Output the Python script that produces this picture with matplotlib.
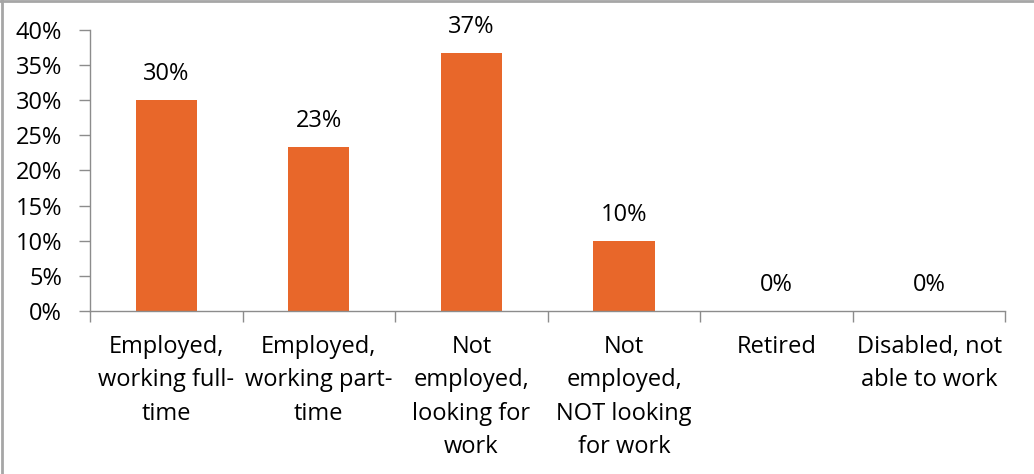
import numpy as np
import matplotlib
matplotlib.use("Agg")
import matplotlib.pyplot as plt
from matplotlib.ticker import FixedLocator, PercentFormatter

categories = ["Employed,\nworking full-\ntime",
              "Employed,\nworking part-\ntime",
              "Not\nemployed,\nlooking for\nwork",
              "Not\nemployed,\nNOT looking\nfor work",
              "Retired",
              "Disabled, not\nable to work"]
shares = [30.0, 23.3, 36.7, 10.0, 0.0, 0.0]
yticks = [0, 5, 10, 15, 20, 25, 30, 35, 40]

plt.rcParams["font.family"] = ["Open Sans", "DejaVu Sans"]
bar_color = "#E8672A"
axis_color = "#8C8C8C"
fs = 17

fig = plt.figure(figsize=(10.34, 4.74), dpi=100)
ax = fig.add_axes([0.087, 0.3439, 0.8854, 0.5928])

x = np.arange(len(categories))
ax.bar(x, shares, width=0.4, color=bar_color)

for xi, v in zip(x, shares):
    ax.annotate(f"{v:.0f}%", (xi, v), xytext=(0, 10), textcoords="offset points",
                ha="center", va="bottom", fontsize=fs, color="#000000")

ax.set_xlim(-0.5, len(categories) - 0.5)
ax.set_ylim(0, 40)
ax.set_yticks(yticks)
ax.yaxis.set_major_formatter(PercentFormatter(decimals=0))

ax.set_xticks(x)
ax.set_xticklabels(categories, fontsize=fs, linespacing=1.53)
ax.xaxis.set_minor_locator(FixedLocator(np.arange(-0.5, len(categories), 1.0)))
ax.tick_params(axis="x", which="major", length=0, pad=17)
ax.tick_params(axis="x", which="minor", length=8, width=1, color=axis_color, direction="out")
ax.tick_params(axis="y", length=8, width=1, color=axis_color, direction="out",
               labelsize=fs, pad=12)

for side in ["top", "right"]:
    ax.spines[side].set_visible(False)
for side in ["left", "bottom"]:
    ax.spines[side].set_color(axis_color)
    ax.spines[side].set_linewidth(1)

# chart frame on the left and top edges
fig.add_artist(plt.Line2D([0.002, 0.002], [0, 1], color="#A6A6A6", lw=2,
                          transform=fig.transFigure))
fig.add_artist(plt.Line2D([0, 1], [0.998, 0.998], color="#A6A6A6", lw=2,
                          transform=fig.transFigure))

fig.savefig("out.png", dpi=100)
